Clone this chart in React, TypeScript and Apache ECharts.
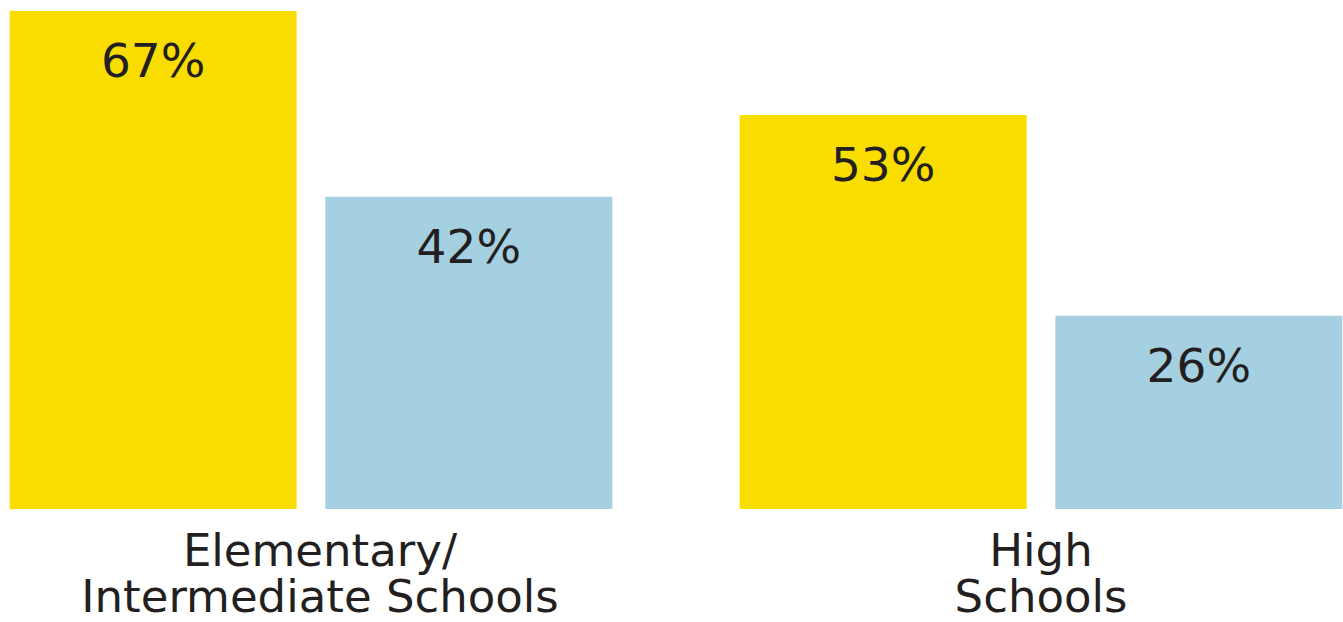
import React, { useEffect, useRef } from "react";
import * as echarts from "echarts";

const categories = ["Elementary/\nIntermediate Schools", "High\nSchools"];
const seriesA = [67, 53];
const seriesB = [42, 26];

const FONT = "DejaVu Sans";
const TEXT = "#231F20";

export default function App() {
  const ref = useRef<HTMLDivElement>(null);
  useEffect(() => {
    if (!ref.current) return;
    const chart = echarts.init(ref.current, null, { renderer: "svg" });
    const label = {
      show: true,
      position: "insideTop",
      distance: 26,
      formatter: "{c}%",
      fontFamily: FONT,
      fontSize: 47,
      color: TEXT,
    };
    const axisText = { fontFamily: FONT, fontSize: 45, lineHeight: 46, color: TEXT };
    chart.setOption({
      animation: false,
      grid: { left: 0, right: 0, top: 11, bottom: 113, containLabel: false },
      xAxis: {
        type: "category",
        data: categories,
        axisLine: { show: false },
        axisTick: { show: false },
        axisLabel: {
          margin: 18,
          ...axisText,
          interval: 0,
          formatter: (v: string, i: number) =>
            v
              .split("\n")
              .map((s) => `{${i === 0 ? "e" : "h"}|${s}}`)
              .join("\n"),
          rich: {
            e: { ...axisText, padding: [0, 0, 0, 18] },
            h: { ...axisText },
          },
        },
      },
      yAxis: {
        type: "value",
        min: 0,
        max: 67,
        show: false,
        splitLine: { show: false },
      },
      series: [
        {
          type: "bar",
          data: seriesA,
          barWidth: 287,
          barGap: "10%",
          itemStyle: { color: "#F9DC00" },
          label,
        },
        {
          type: "bar",
          data: seriesB,
          barWidth: 287,
          barGap: "10%",
          itemStyle: { color: "#A5D0E1" },
          label,
        },
      ],
    });
    return () => chart.dispose();
  }, []);
  return (
    <div style={{ position: "fixed", left: 0, top: 0, width: 1343, height: 622, overflow: "hidden", background: "#fff" }}>
      <div
        ref={ref}
        style={{ position: "absolute", left: -54, top: 0, width: 1460, height: 622 }}
      />
    </div>
  );
}
